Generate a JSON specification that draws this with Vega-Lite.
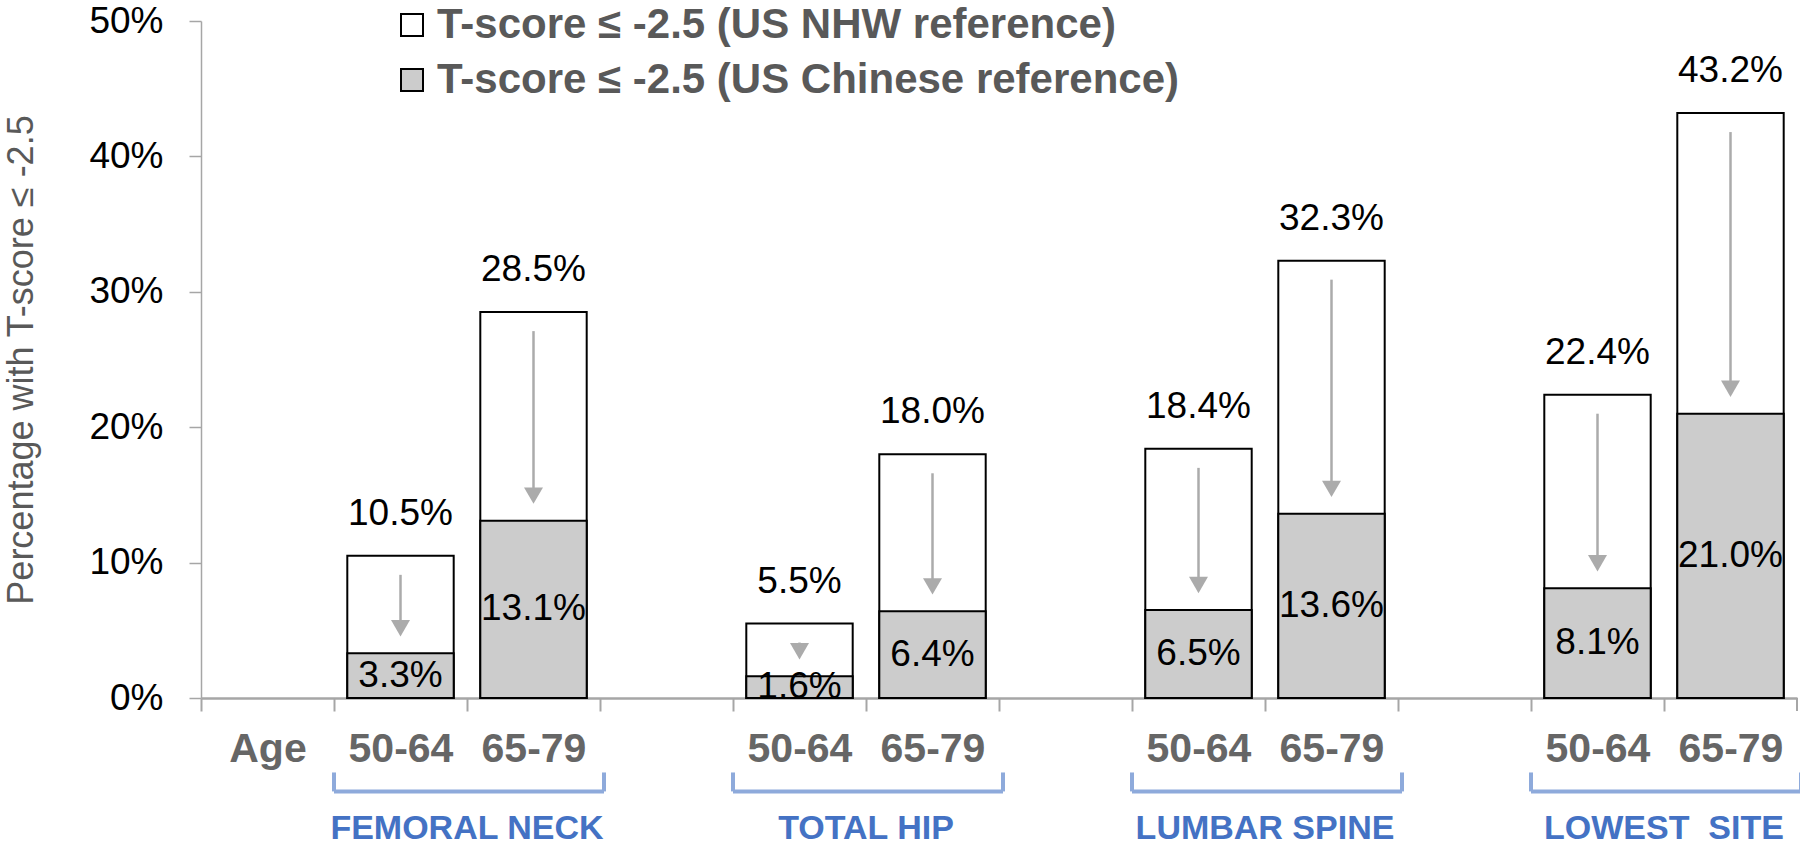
{
  "$schema": "https://vega.github.io/schema/vega-lite/v6.json",
  "width": 1596,
  "height": 677,
  "autosize": {"type": "none"},
  "padding": {"left": 201, "top": 21, "right": 3, "bottom": 149},
  "background": "white",
  "config": {
    "view": {"stroke": null},
    "font": "Liberation Sans"
  },
  "datasets": {
    "bars": [
      {"slot": "FN|50-64", "ref": "T-score ≤ -2.5 (US NHW reference)", "value": 0.105},
      {"slot": "FN|65-79", "ref": "T-score ≤ -2.5 (US NHW reference)", "value": 0.285},
      {"slot": "TH|50-64", "ref": "T-score ≤ -2.5 (US NHW reference)", "value": 0.055},
      {"slot": "TH|65-79", "ref": "T-score ≤ -2.5 (US NHW reference)", "value": 0.180},
      {"slot": "LS|50-64", "ref": "T-score ≤ -2.5 (US NHW reference)", "value": 0.184},
      {"slot": "LS|65-79", "ref": "T-score ≤ -2.5 (US NHW reference)", "value": 0.323},
      {"slot": "LW|50-64", "ref": "T-score ≤ -2.5 (US NHW reference)", "value": 0.224},
      {"slot": "LW|65-79", "ref": "T-score ≤ -2.5 (US NHW reference)", "value": 0.432},
      {"slot": "FN|50-64", "ref": "T-score ≤ -2.5 (US Chinese reference)", "value": 0.033},
      {"slot": "FN|65-79", "ref": "T-score ≤ -2.5 (US Chinese reference)", "value": 0.131},
      {"slot": "TH|50-64", "ref": "T-score ≤ -2.5 (US Chinese reference)", "value": 0.016},
      {"slot": "TH|65-79", "ref": "T-score ≤ -2.5 (US Chinese reference)", "value": 0.064},
      {"slot": "LS|50-64", "ref": "T-score ≤ -2.5 (US Chinese reference)", "value": 0.065},
      {"slot": "LS|65-79", "ref": "T-score ≤ -2.5 (US Chinese reference)", "value": 0.136},
      {"slot": "LW|50-64", "ref": "T-score ≤ -2.5 (US Chinese reference)", "value": 0.081},
      {"slot": "LW|65-79", "ref": "T-score ≤ -2.5 (US Chinese reference)", "value": 0.210}
    ],
    "pairs": [
      {"slot": "FN|50-64", "nhw": 0.105, "chinese": 0.033},
      {"slot": "FN|65-79", "nhw": 0.285, "chinese": 0.131},
      {"slot": "TH|50-64", "nhw": 0.055, "chinese": 0.016},
      {"slot": "TH|65-79", "nhw": 0.180, "chinese": 0.064},
      {"slot": "LS|50-64", "nhw": 0.184, "chinese": 0.065},
      {"slot": "LS|65-79", "nhw": 0.323, "chinese": 0.136},
      {"slot": "LW|50-64", "nhw": 0.224, "chinese": 0.081},
      {"slot": "LW|65-79", "nhw": 0.432, "chinese": 0.210}
    ],
    "groups": [
      {"group": "FEMORAL NECK", "first": "FN|50-64", "second": "FN|65-79", "line": -0.069, "top": -0.055, "label": -0.097},
      {"group": "TOTAL HIP", "first": "TH|50-64", "second": "TH|65-79", "line": -0.069, "top": -0.055, "label": -0.097},
      {"group": "LUMBAR SPINE", "first": "LS|50-64", "second": "LS|65-79", "line": -0.069, "top": -0.055, "label": -0.097},
      {"group": "LOWEST\u00a0 SITE", "first": "LW|50-64", "second": "LW|65-79", "line": -0.069, "top": -0.055, "label": -0.097}
    ]
  },
  "encoding": {
    "x": {
      "field": "slot",
      "type": "nominal",
      "scale": {
        "domain": ["Age", "FN|50-64", "FN|65-79", "g1", "TH|50-64", "TH|65-79", "g2", "LS|50-64", "LS|65-79", "g3", "LW|50-64", "LW|65-79"],
        "paddingInner": 0,
        "paddingOuter": 0
      },
      "axis": {
        "title": null,
        "labelExpr": "datum.value == 'Age' ? 'Age' : (indexof(datum.value, '|') >= 0 ? split(datum.value, '|')[1] : '')",
        "labelAngle": 0,
        "labelFont": "Liberation Sans",
        "labelFontWeight": "bold",
        "labelFontSize": 41,
        "labelColor": "#666666",
        "labelPadding": 18,
        "tickOffset": -66.5,
        "labelOffset": 66.5,
        "tickSize": 13,
        "tickColor": "#a6a6a6",
        "tickWidth": 2,
        "domainColor": "#a6a6a6",
        "domainWidth": 2.5,
        "grid": false
      }
    }
  },
  "layer": [
    {
      "data": {"name": "bars"},
      "mark": {"type": "bar", "width": {"band": 0.8}, "stroke": "black", "strokeWidth": 2},
      "encoding": {
        "y": {
          "field": "value",
          "type": "quantitative",
          "stack": null,
          "scale": {"domain": [0, 0.5], "nice": false, "zero": true},
          "axis": {
            "title": "Percentage with T-score ≤ -2.5",
            "titleFont": "Liberation Sans",
            "titleFontSize": 36,
            "titleFontWeight": "normal",
            "titleColor": "#595959",
            "titlePadding": 48,
            "format": ".0%",
            "values": [0, 0.1, 0.2, 0.3, 0.4, 0.5],
            "labelFontSize": 37,
            "labelColor": "black",
            "labelPadding": 26,
            "tickSize": 12,
            "tickColor": "#a6a6a6",
            "tickWidth": 1.5,
            "domainColor": "#a6a6a6",
            "domainWidth": 1.5,
            "grid": false
          }
        },
        "fill": {
          "field": "ref",
          "type": "nominal",
          "scale": {
            "domain": ["T-score ≤ -2.5 (US NHW reference)", "T-score ≤ -2.5 (US Chinese reference)"],
            "range": ["white", "#cccccc"]
          },
          "legend": {
            "title": null,
            "orient": "none",
            "legendX": 190,
            "legendY": -17,
            "direction": "vertical",
            "symbolType": "square",
            "symbolSize": 484,
            "symbolStrokeColor": "black",
            "symbolStrokeWidth": 2,
            "labelFont": "Liberation Sans",
            "labelFontSize": 42,
            "labelFontWeight": "bold",
            "labelColor": "#595959",
            "labelLimit": 1400,
            "rowPadding": 13,
            "symbolOffset": 0,
            "labelOffset": 4
          }
        },
        "order": {"field": "value", "sort": "descending"}
      }
    },
    {
      "data": {"name": "pairs"},
      "mark": {"type": "rule", "color": "#ababab", "strokeWidth": 2.5, "yOffset": 19, "y2Offset": -30},
      "encoding": {
        "y": {"field": "nhw", "type": "quantitative"},
        "y2": {"field": "chinese"}
      }
    },
    {
      "data": {"name": "pairs"},
      "mark": {"type": "point", "shape": "triangle-down", "filled": true, "color": "#ababab", "size": 360, "opacity": 1, "yOffset": -25},
      "encoding": {
        "y": {"field": "chinese", "type": "quantitative"}
      }
    },
    {
      "data": {"name": "pairs"},
      "mark": {"type": "text", "fontSize": 37, "color": "black", "baseline": "alphabetic", "dy": -31},
      "encoding": {
        "y": {"field": "nhw", "type": "quantitative"},
        "text": {"field": "nhw", "type": "quantitative", "format": ".1%"}
      }
    },
    {
      "data": {"name": "pairs"},
      "transform": [{"calculate": "datum.chinese / 2", "as": "mid"}],
      "mark": {"type": "text", "fontSize": 37, "color": "black", "baseline": "middle"},
      "encoding": {
        "y": {"field": "mid", "type": "quantitative"},
        "text": {"field": "chinese", "type": "quantitative", "format": ".1%"}
      }
    },
    {
      "data": {"name": "groups"},
      "mark": {"type": "rule", "color": "#8eaadb", "strokeWidth": 4, "clip": false, "x2Offset": 4},
      "encoding": {
        "x": {"field": "first", "type": "nominal", "bandPosition": 0},
        "x2": {"field": "second", "bandPosition": 1},
        "y": {"field": "line", "type": "quantitative"}
      }
    },
    {
      "data": {"name": "groups"},
      "mark": {"type": "rule", "color": "#8eaadb", "strokeWidth": 4, "clip": false},
      "encoding": {
        "x": {"field": "first", "type": "nominal", "bandPosition": 0},
        "y": {"field": "line", "type": "quantitative"},
        "y2": {"field": "top"}
      }
    },
    {
      "data": {"name": "groups"},
      "mark": {"type": "rule", "color": "#8eaadb", "strokeWidth": 4, "clip": false, "xOffset": 4},
      "encoding": {
        "x": {"field": "second", "type": "nominal", "bandPosition": 1},
        "y": {"field": "line", "type": "quantitative"},
        "y2": {"field": "top"}
      }
    },
    {
      "data": {"name": "groups"},
      "mark": {"type": "text", "color": "#4472c4", "fontSize": 34, "fontWeight": "bold", "baseline": "middle", "clip": false},
      "encoding": {
        "x": {"field": "second", "type": "nominal", "bandPosition": 0},
        "y": {"field": "label", "type": "quantitative"},
        "text": {"field": "group", "type": "nominal"}
      }
    },
    {
      "data": {"name": "groups"},
      "transform": [{"filter": "datum.first == 'LW|50-64'"}],
      "mark": {"type": "rule", "color": "#a6a6a6", "strokeWidth": 2, "clip": false},
      "encoding": {
        "x": {"field": "second", "type": "nominal", "bandPosition": 1},
        "y": {"datum": 0, "type": "quantitative"},
        "y2": {"datum": -0.0096}
      }
    }
  ]
}
